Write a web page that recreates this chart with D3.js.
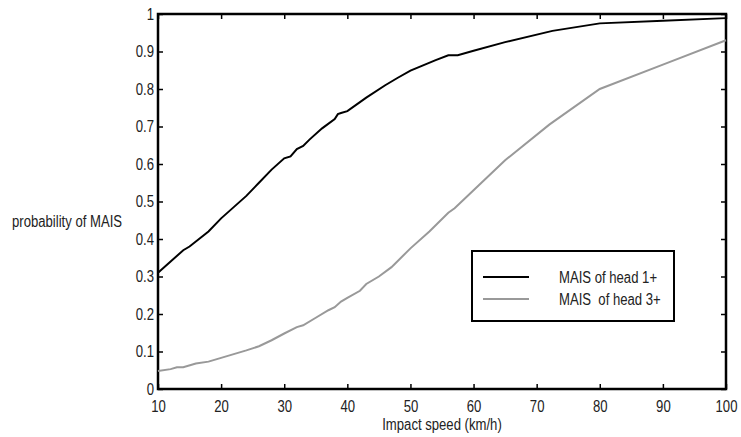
<!DOCTYPE html>
<html>
<head>
<meta charset="utf-8">
<script src="https://cdn.jsdelivr.net/npm/d3@7"></script>
<style>
  body { margin: 0; background: #fff; }
  text { font-family: "Liberation Sans", Arial, sans-serif; font-size: 16px; fill: #222; }
</style>
</head>
<body>
<div id="chart"></div>
<script>
"use strict";

// impact speed (km/h) and probability for each curve
const speedHead1 = [10, 12, 14, 15, 18, 20, 22, 24, 26, 28, 30, 31, 32, 33, 34, 36, 38, 38.5, 39, 40, 42, 43, 46, 48, 50, 52, 54, 56, 57.5, 60, 65, 72.5, 80, 90, 100];
const probHead1  = [0.31, 0.34, 0.37, 0.38, 0.42, 0.455, 0.485, 0.515, 0.55, 0.585, 0.615, 0.62, 0.64, 0.648, 0.665, 0.695, 0.72, 0.733, 0.736, 0.741, 0.765, 0.777, 0.81, 0.83, 0.849, 0.863, 0.877, 0.89, 0.89, 0.902, 0.925, 0.955, 0.975, 0.982, 0.989];

const speedHead3 = [10, 12, 13, 14, 16, 18, 20, 22, 24, 26, 28, 30, 32, 33, 35, 37, 38, 39, 40, 42, 43, 45, 47, 50, 53, 56, 57, 60, 65, 72, 80, 90, 100];
const probHead3  = [0.048, 0.053, 0.058, 0.058, 0.068, 0.073, 0.083, 0.093, 0.103, 0.114, 0.13, 0.148, 0.165, 0.17, 0.19, 0.21, 0.218, 0.233, 0.243, 0.262, 0.28, 0.3, 0.325, 0.375, 0.42, 0.47, 0.482, 0.53, 0.61, 0.705, 0.8, 0.865, 0.93];

const xTicks = [10, 20, 30, 40, 50, 60, 70, 80, 90, 100];
const yTicks = [0, 0.1, 0.2, 0.3, 0.4, 0.5, 0.6, 0.7, 0.8, 0.9, 1];
const legendLabels = ["MAIS of head 1+", "MAIS  of head 3+"];

const W = 741, H = 437;
const margin = { top: 14, right: 15, bottom: 48, left: 158 };
const width = W - margin.left - margin.right,
      height = H - margin.top - margin.bottom;

// no narrow font installed, so squeeze text horizontally
const NARROW = 0.82;
const condense = sel => {
    sel.each(function () {
        const t = d3.select(this);
        const x0 = +t.attr("x") || 0;
        t.attr("x", x0 / NARROW).attr("transform", "scale(" + NARROW + ",1)");
    });
};

const svg = d3.select("#chart")
    .append("svg")
    .attr("width", W)
    .attr("height", H);

const g = svg.append("g")
    .attr("transform", "translate(" + margin.left + "," + margin.top + ")");

const x = d3.scaleLinear().domain([10, 100]).range([0, width]);
const y = d3.scaleLinear().domain([0, 1]).range([height, 0]);

const fmtY = d => d === 0 ? "0" : d === 1 ? "1" : d3.format(".1f")(d);

// ticks point inward on all four sides
const styleAxis = sel => {
    sel.select(".domain").remove();
    sel.selectAll("line").attr("stroke", "#000").attr("stroke-width", 1.5);
    sel.selectAll("text").style("font-size", "16px").attr("fill", "#222").call(condense);
};

g.append("g")
    .attr("transform", "translate(0," + height + ")")
    .call(d3.axisBottom(x).tickValues(xTicks).tickSizeInner(-5).tickSizeOuter(0).tickPadding(12))
    .call(styleAxis);

g.append("g")
    .call(d3.axisTop(x).tickValues(xTicks).tickSizeInner(-5).tickSizeOuter(0).tickFormat(""))
    .call(styleAxis);

g.append("g")
    .call(d3.axisLeft(y).tickValues(yTicks).tickSizeInner(-5).tickSizeOuter(0).tickPadding(4).tickFormat(fmtY))
    .call(styleAxis);

g.append("g")
    .attr("transform", "translate(" + width + ",0)")
    .call(d3.axisRight(y).tickValues(yTicks).tickSizeInner(-5).tickSizeOuter(0).tickFormat(""))
    .call(styleAxis);

// frame
g.append("rect")
    .attr("width", width)
    .attr("height", height)
    .attr("fill", "none")
    .attr("stroke", "#000")
    .attr("stroke-width", 2.5);

// axis titles
svg.append("text")
    .attr("x", margin.left + width / 2)
    .attr("y", 430)
    .style("text-anchor", "middle")
    .text("Impact speed (km/h)")
    .call(condense);

svg.append("text")
    .attr("x", 12)
    .attr("y", 227)
    .text("probability of MAIS")
    .call(condense);

// the curves
const line = d3.line()
    .x(d => x(d[0]))
    .y(d => y(d[1]));

g.append("path")
    .datum(d3.zip(speedHead3, probHead3))
    .attr("fill", "none")
    .attr("stroke", "#999")
    .attr("stroke-width", 2)
    .attr("d", line);

g.append("path")
    .datum(d3.zip(speedHead1, probHead1))
    .attr("fill", "none")
    .attr("stroke", "#000")
    .attr("stroke-width", 2)
    .attr("d", line);

// legend
const legend = svg.append("g").attr("transform", "translate(472,251)");
legend.append("rect")
    .attr("width", 202)
    .attr("height", 70)
    .attr("fill", "#fff")
    .attr("stroke", "#000")
    .attr("stroke-width", 2);

const legendColors = ["#000", "#999"];
legendLabels.forEach((label, i) => {
    const ly = 26 + i * 22;
    legend.append("line")
        .attr("x1", 11).attr("x2", 57)
        .attr("y1", ly).attr("y2", ly)
        .attr("stroke", legendColors[i])
        .attr("stroke-width", 2);
    legend.append("text")
        .attr("x", 87)
        .attr("y", ly + 6)
        .style("white-space", "pre")
        .text(label)
        .call(condense);
});
</script>
</body>
</html>
